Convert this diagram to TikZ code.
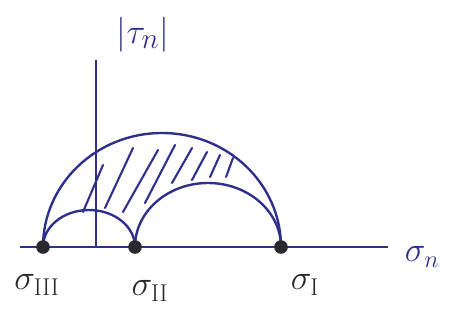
\documentclass[tikz,border=0pt]{standalone}
\usepackage{amsmath}
\usetikzlibrary{backgrounds}
\definecolor{ink}{RGB}{48,48,140}
\definecolor{lead}{RGB}{40,40,45}

\begin{document}
\begin{tikzpicture}[x=0.025cm,y=0.025cm,
  axe/.style={ink,line width=1.7pt},
  cercle/.style={ink,line width=1.7pt},
  hachure/.style={ink,line width=1.5pt,line cap=round},
  pt/.style={circle,fill=lead,inner sep=0pt,minimum size=0.34cm},
  grand/.style={font=\fontsize{27}{31}\selectfont}]

\useasboundingbox (0,0) rectangle (449,325);

% ===== Axes (sigma_n, |tau_n|) =====
\coordinate (O) at (96,78);
\coordinate (Sdeb) at (20,78);
\coordinate (Sfin) at (388,78);
\coordinate (Ttop) at (96,265);

\node[ink,font=\fontsize{30}{34}\selectfont] (taun) at (143,290) {$|\tau_n|$};
\node[ink,grand] (sign) at (422,68) {$\sigma_n$};

% ===== Contraintes principales =====
\node[pt] (s3) at (43,78) {};
\node[pt] (s2) at (135,78) {};
\node[pt] (s1) at (281,78) {};

\node[lead,grand] (l3) at (37,40) {$\sigma_{\mathrm{III}}$};
\node[lead,grand] (l2) at (150,34) {$\sigma_{\mathrm{II}}$};
\node[lead,grand] (l1) at (305,40) {$\sigma_{\mathrm{I}}$};

\begin{scope}[on background layer]
  \draw[axe] (Sdeb) -- (Sfin);
  \draw[axe] (O) -- (Ttop);

  % Cercles de Mohr
  \draw[cercle] (s3.center) arc[start angle=180,end angle=0,x radius=119,y radius=114];
  \draw[cercle] (s3.center) arc[start angle=180,end angle=0,x radius=46,y radius=37];
  \draw[cercle] (s2.center) arc[start angle=180,end angle=0,x radius=73,y radius=64];

  % Zone admissible (hachures)
  \foreach \xa/\ya/\xb/\yb in {83/113/103/160, 105/117/133/177, 123/113/158/175,
      145/122/175/180, 172/142/192/177, 192/145/207/173, 210/148/220/170,
      226/148/233/167}
    \draw[hachure] (\xa,\ya) -- (\xb,\yb);
\end{scope}

\end{tikzpicture}
\end{document}
